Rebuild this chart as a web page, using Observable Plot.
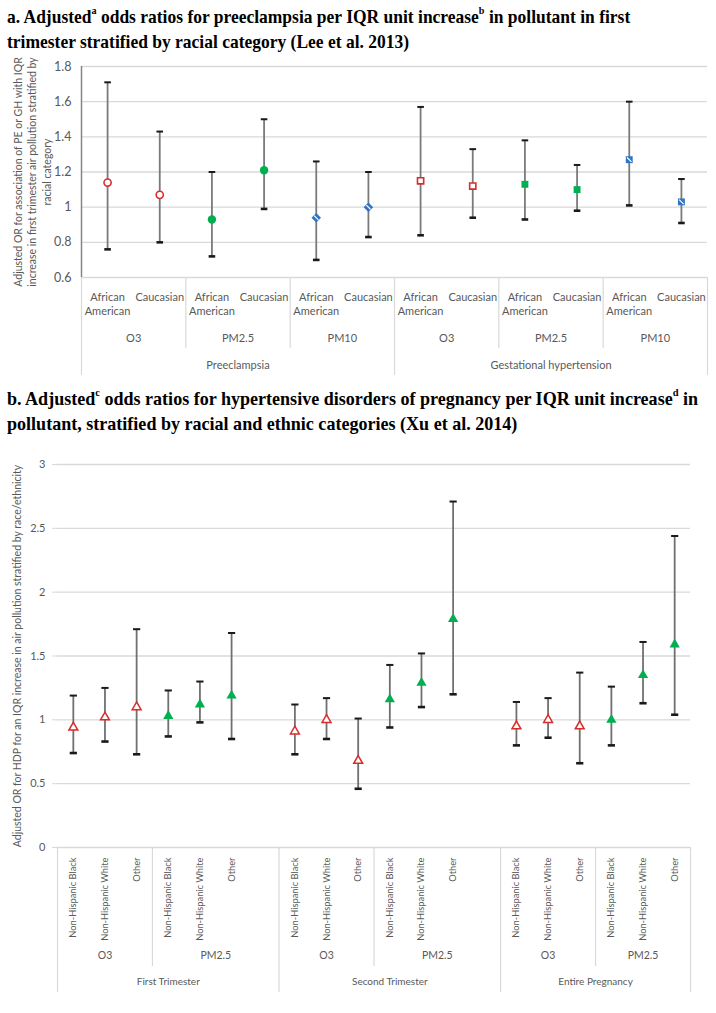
<!DOCTYPE html>
<html>
<head>
<meta charset="utf-8">
<script src="https://cdn.jsdelivr.net/npm/d3@7"></script>
<script src="https://cdn.jsdelivr.net/npm/@observablehq/plot@0.6"></script>
<style>
  body { margin: 0; background: #fff; }
  #root { position: relative; width: 716px; height: 1013px; overflow: hidden; }
  .title { position: absolute; left: 7px; font-family: "Liberation Serif", serif; font-weight: bold; font-size: 19px; line-height: 25px; color: #000; white-space: nowrap; transform-origin: 0 0; }
  .title sup { font-size: 11px; line-height: 0; position: relative; top: -2px; vertical-align: super; }
  .chart { position: absolute; left: 0; }
</style>
</head>
<body>
<div id="root">
  <div class="title" style="top:4px; transform: scaleX(0.92)">a. Adjusted<sup>a</sup> odds ratios for preeclampsia per IQR unit increase<sup>b</sup> in pollutant in first<br>trimester stratified by racial category (Lee et al. 2013)</div>
  <div id="pa" class="chart" style="top:52px"></div>
  <div class="title" style="top:386px; transform: scaleX(0.95)">b. Adjusted<sup>c</sup> odds ratios for hypertensive disorders of pregnancy per IQR unit increase<sup>d</sup> in<br>pollutant, stratified by racial and ethnic categories (Xu et al. 2014)</div>
  <div id="pb" class="chart" style="top:445px"></div>
</div>
<script>
// ---------- Panel a data (Lee et al. 2013) ----------
const aOutcome = ["Preeclampsia","Preeclampsia","Preeclampsia","Preeclampsia","Preeclampsia","Preeclampsia",
  "Gestational hypertension","Gestational hypertension","Gestational hypertension","Gestational hypertension","Gestational hypertension","Gestational hypertension"];
const aPollutant = ["O3","O3","PM2.5","PM2.5","PM10","PM10","O3","O3","PM2.5","PM2.5","PM10","PM10"];
const aRace = ["African American","Caucasian","African American","Caucasian","African American","Caucasian",
  "African American","Caucasian","African American","Caucasian","African American","Caucasian"];
const aOR   = [1.14, 1.07, 0.93, 1.21, 0.94, 1.00, 1.15, 1.12, 1.13, 1.10, 1.27, 1.03];
const aLow  = [0.76, 0.80, 0.72, 0.99, 0.70, 0.83, 0.84, 0.94, 0.93, 0.98, 1.01, 0.91];
const aHigh = [1.71, 1.43, 1.20, 1.50, 1.26, 1.20, 1.57, 1.33, 1.38, 1.24, 1.60, 1.16];
const aTicks = [0.6, 0.8, 1, 1.2, 1.4, 1.6, 1.8];
const aYLabel = ["Adjusted OR for association of PE or GH with IQR",
  "increase in first trimester air pollution stratified by", "racial category"];

// ---------- Panel b data (Xu et al. 2014) ----------
const bPeriod = ["First Trimester","First Trimester","First Trimester","First Trimester","First Trimester","First Trimester","First Trimester",
  "Second Trimester","Second Trimester","Second Trimester","Second Trimester","Second Trimester","Second Trimester","Second Trimester",
  "Entire Pregnancy","Entire Pregnancy","Entire Pregnancy","Entire Pregnancy","Entire Pregnancy","Entire Pregnancy"];
const bPollutant = ["O3","O3","O3","PM2.5","PM2.5","PM2.5","PM2.5",
  "O3","O3","O3","PM2.5","PM2.5","PM2.5","PM2.5",
  "O3","O3","O3","PM2.5","PM2.5","PM2.5"];
const bRace = ["Non-Hispanic Black","Non-Hispanic White","Other","Non-Hispanic Black","Non-Hispanic White","Other","",
  "Non-Hispanic Black","Non-Hispanic White","Other","Non-Hispanic Black","Non-Hispanic White","Other","",
  "Non-Hispanic Black","Non-Hispanic White","Other","Non-Hispanic Black","Non-Hispanic White","Other"];
const bOR   = [0.94, 1.02, 1.10, 1.03, 1.12, 1.19, null, 0.91, 1.00, 0.68, 1.16, 1.29, 1.79, null, 0.95, 1.00, 0.95, 1.00, 1.35, 1.59];
const bLow  = [0.74, 0.83, 0.73, 0.87, 0.98, 0.85, null, 0.73, 0.85, 0.46, 0.94, 1.10, 1.20, null, 0.80, 0.86, 0.66, 0.80, 1.13, 1.04];
const bHigh = [1.19, 1.25, 1.71, 1.23, 1.30, 1.68, null, 1.12, 1.17, 1.01, 1.43, 1.52, 2.71, null, 1.14, 1.17, 1.37, 1.26, 1.61, 2.44];
const bTicks = [0, 0.5, 1, 1.5, 2, 2.5, 3];
const bYLabel = ["Adjusted OR for HDP for an IQR increase in air pollution stratified by race/ethnicity"];

// ---------- helpers ----------
const RED = "#d92b2b", GREEN = "#00b050", BLUE = "#2e75c6", TXT = "#595959", GRID = "#d9d9d9";
const capSym = { draw(ctx, size) { const s = Math.sqrt(size / Math.PI); ctx.moveTo(-s, 0); ctx.lineTo(s, 0); } };
const stripeSym = { draw(ctx, size) { const s = Math.sqrt(size / Math.PI) * 0.7; ctx.moveTo(-s, -s); ctx.lineTo(s, s); } };

function runs(keys) {
  const out = [];
  keys.forEach((k, i) => {
    const last = out[out.length - 1];
    if (last && last.key === k) last.end = i; else out.push({ key: k, start: i, end: i });
  });
  return out;
}

function errorMarks(data, barColor, lowW, highW, capR) {
  const valid = data.filter(d => d.or != null);
  return [
    Plot.ruleX(valid, { x: "i", y1: "lo", y2: "hi", stroke: barColor, strokeWidth: 1.8 }),
    Plot.dot(valid, { x: "i", y: "hi", symbol: capSym, r: capR, stroke: "#1a1a1a", fill: "none", strokeWidth: highW }),
    Plot.dot(valid, { x: "i", y: "lo", symbol: capSym, r: capR, stroke: "#1a1a1a", fill: "none", strokeWidth: lowW })
  ];
}

// ---------- Panel a ----------
{
  const H = 333, mT = 14, mB = 108, plotH = H - mT - mB;
  const data = aRace.map((r, i) => ({ i, race: r, pol: aPollutant[i], out: aOutcome[i], or: aOR[i], lo: aLow[i], hi: aHigh[i] }));
  const polRuns = runs(data.map(d => d.out + "|" + d.pol)).map(r => ({ label: aPollutant[r.start], c: (r.start + r.end) / 2, start: r.start }));
  const outRuns = runs(aOutcome).map(r => ({ label: r.key, c: (r.start + r.end) / 2, start: r.start, end: r.end }));
  const longSeps = [-0.5, ...outRuns.map(r => r.end + 0.5)];
  const shortSeps = polRuns.map(r => r.start - 0.5).filter(v => !longSeps.includes(v));
  const sel = (out, pol) => data.filter(d => d.out === out && d.pol === pol);
  const PE = "Preeclampsia", GH = "Gestational hypertension";

  const chart = Plot.plot({
    width: 716, height: H, marginLeft: 81, marginRight: 9, marginTop: mT, marginBottom: mB,
    x: { domain: [-0.5, aRace.length - 0.5], axis: null },
    y: { domain: [aTicks[0], aTicks[aTicks.length - 1]], axis: null },
    style: { fontFamily: "Lato, 'Open Sans', sans-serif", color: TXT, background: "white", overflow: "visible" },
    marks: [
      Plot.ruleY(aTicks, { stroke: GRID, strokeWidth: 1.3 }),
      Plot.axisY({ ticks: aTicks, tickFormat: d => String(d), tickSize: 0, tickPadding: 10, fontSize: 12.5, fill: TXT, label: null }),
      Plot.ruleX([-0.5], { stroke: "#868686", strokeWidth: 1.5 }),
      Plot.ruleX(shortSeps, { x: d => d, stroke: GRID, strokeWidth: 1.2, insetTop: plotH, insetBottom: -71 }),
      Plot.ruleX(longSeps, { x: d => d, stroke: GRID, strokeWidth: 1.2, insetTop: plotH, insetBottom: -98 }),
      Plot.text(data, { x: "i", text: d => d.race.replace(" ", "\n"), frameAnchor: "bottom", dy: 14, lineAnchor: "top", lineHeight: 1.25, fontSize: 11, fill: TXT }),
      Plot.text(polRuns, { x: "c", text: "label", frameAnchor: "bottom", dy: 64, fontSize: 11, fill: TXT }),
      Plot.text(outRuns, { x: "c", text: "label", frameAnchor: "bottom", dy: 91, fontSize: 11, fill: TXT }),
      Plot.text([aYLabel.join("\n")], { text: d => d, frameAnchor: "left", rotate: -90, dx: -50, lineHeight: 1.4, fontSize: 10.5, fill: TXT, textAnchor: "middle", lineAnchor: "middle" }),
      ...errorMarks(data, "#7a7a7a", 2.6, 2, 3.3),
      Plot.dot(sel(PE, "O3"), { x: "i", y: "or", symbol: "circle", r: 3.6, fill: "white", stroke: RED, strokeWidth: 1.6 }),
      Plot.dot(sel(PE, "PM2.5"), { x: "i", y: "or", symbol: "circle", r: 4.2, fill: GREEN, stroke: "none" }),
      Plot.dot(sel(PE, "PM10"), { x: "i", y: "or", symbol: "diamond2", r: 4.3, fill: BLUE, stroke: "none" }),
      Plot.dot(sel(PE, "PM10"), { x: "i", y: "or", symbol: stripeSym, r: 3.0, fill: "none", stroke: "white", strokeWidth: 1.2 }),
      Plot.dot(sel(GH, "O3"), { x: "i", y: "or", symbol: "square", r: 3.5, fill: "white", stroke: RED, strokeWidth: 1.6 }),
      Plot.dot(sel(GH, "PM2.5"), { x: "i", y: "or", symbol: "square", r: 3.9, fill: GREEN, stroke: "none" }),
      Plot.dot(sel(GH, "PM10"), { x: "i", y: "or", symbol: "square", r: 3.9, fill: BLUE, stroke: "none" }),
      Plot.dot(sel(GH, "PM10"), { x: "i", y: "or", symbol: stripeSym, r: 3.2, fill: "none", stroke: "white", strokeWidth: 1.2 })
    ]
  });
  document.getElementById("pa").appendChild(chart);
}

// ---------- Panel b ----------
{
  const H = 555, mT = 19, mB = 153, plotH = H - mT - mB;
  const data = bRace.map((r, i) => ({ i, race: r, pol: bPollutant[i], per: bPeriod[i], or: bOR[i], lo: bLow[i], hi: bHigh[i] }));
  const polRuns = runs(data.map(d => d.per + "|" + d.pol)).map(r => ({ label: bPollutant[r.start], c: (r.start + r.end) / 2, start: r.start }));
  const perRuns = runs(bPeriod).map(r => ({ label: r.key, c: (r.start + r.end) / 2, start: r.start, end: r.end }));
  const longSeps = [-0.5, ...perRuns.map(r => r.end + 0.5)];
  const shortSeps = polRuns.map(r => r.start - 0.5).filter(v => !longSeps.includes(v));
  const valid = data.filter(d => d.or != null);

  const chart = Plot.plot({
    width: 716, height: H, marginLeft: 57, marginRight: 26, marginTop: mT, marginBottom: mB,
    x: { domain: [-0.5, bRace.length - 0.5], axis: null },
    y: { domain: [bTicks[0], bTicks[bTicks.length - 1]], axis: null },
    style: { fontFamily: "Lato, 'Open Sans', sans-serif", color: TXT, background: "white", overflow: "visible" },
    marks: [
      Plot.ruleY(bTicks, { stroke: GRID, strokeWidth: 1.3 }),
      Plot.axisY({ ticks: bTicks, tickFormat: d => String(d), tickSize: 5, tickPadding: 7, stroke: GRID, fontSize: 11, fill: TXT, label: null }),
      Plot.ruleX(shortSeps, { x: d => d, stroke: GRID, strokeWidth: 1.2, insetTop: plotH, insetBottom: -119 }),
      Plot.ruleX(longSeps, { x: d => d, stroke: GRID, strokeWidth: 1.2, insetTop: plotH, insetBottom: -145 }),
      Plot.text(data.filter(d => d.race), { x: "i", text: "race", frameAnchor: "bottom", dy: 10, rotate: -90, textAnchor: "end", lineAnchor: "middle", fontSize: 9.3, fill: TXT }),
      Plot.text(polRuns, { x: "c", text: "label", frameAnchor: "bottom", dy: 111, fontSize: 10.5, fill: TXT }),
      Plot.text(perRuns, { x: "c", text: "label", frameAnchor: "bottom", dy: 137, fontSize: 10, fill: TXT }),
      Plot.text(bYLabel, { text: d => d, frameAnchor: "left", rotate: -90, dx: -40, fontSize: 10.5, fill: TXT, textAnchor: "middle", lineAnchor: "middle" }),
      ...errorMarks(data, "#707070", 2.6, 2, 3.6),
      Plot.dot(valid.filter(d => d.pol === "O3"), { x: "i", y: "or", symbol: "triangle", r: 3.3, fill: "white", stroke: RED, strokeWidth: 1.5 }),
      Plot.dot(valid.filter(d => d.pol === "PM2.5"), { x: "i", y: "or", symbol: "triangle", r: 3.8, fill: GREEN, stroke: "none" })
    ]
  });
  document.getElementById("pb").appendChild(chart);
}
</script>
</body>
</html>
